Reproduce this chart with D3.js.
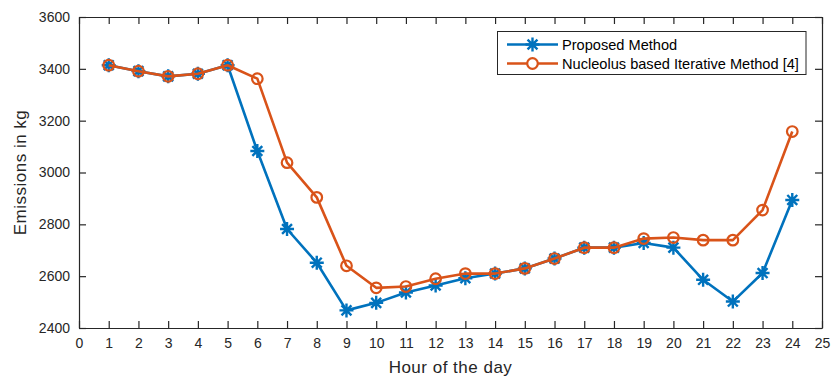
<!DOCTYPE html>
<html><head><meta charset="utf-8">
<script src="https://cdn.jsdelivr.net/npm/d3@7"></script>
<style>body{margin:0;background:#fff;} svg{display:block;font-family:"Liberation Sans",Arial,sans-serif;}</style>
</head><body>
<svg id="c" width="831" height="377"></svg>
<script>
const hours = [1,2,3,4,5,6,7,8,9,10,11,12,13,14,15,16,17,18,19,20,21,22,23,24];
const proposed = [3414,3391,3371,3381,3414,3083,2782,2652,2468,2497,2537,2564,2592,2610,2630,2668,2710,2710,2728,2710,2586,2502,2612,2894];
const nucleolus = [3414,3391,3371,3381,3414,3362,3038,2904,2640,2555,2560,2590,2610,2610,2630,2668,2710,2710,2745,2749,2739,2739,2855,3158];
const xTicks = d3.range(0,26);
const yTicks = [2400,2600,2800,3000,3200,3400,3600];
const seriesNames = ["Proposed Method","Nucleolus based Iterative Method [4]"];
const colors = ["#0072BD","#D95319"];

const svg = d3.select("#c");
const L=79, R=822, T=17, B=328;
const x = d3.scaleLinear().domain([0,25]).range([L,R]);
const y = d3.scaleLinear().domain([2400,3600]).range([B,T]);
const axisCol = "#262626";

// axes
const gx = svg.append("g").attr("transform",`translate(0,${B})`)
  .call(d3.axisBottom(x).tickValues(xTicks).tickSizeInner(-7).tickSizeOuter(0).tickPadding(10).tickFormat(d3.format("d")));
const gy = svg.append("g").attr("transform",`translate(${L},0)`)
  .call(d3.axisLeft(y).tickValues(yTicks).tickSizeInner(-7).tickSizeOuter(0).tickPadding(9).tickFormat(d3.format("d")));
const gxt = svg.append("g").attr("transform",`translate(0,${T})`)
  .call(d3.axisTop(x).tickValues(xTicks).tickSizeInner(-7).tickSizeOuter(0).tickFormat(""));
const gyr = svg.append("g").attr("transform",`translate(${R},0)`)
  .call(d3.axisRight(y).tickValues(yTicks).tickSizeInner(-7).tickSizeOuter(0).tickFormat(""));
[gx,gy,gxt,gyr].forEach(g=>{
  g.selectAll("path.domain").attr("stroke",axisCol).attr("stroke-width",1.2);
  g.selectAll(".tick line").attr("stroke",axisCol).attr("stroke-width",1.2);
  g.selectAll(".tick text").attr("fill",axisCol).attr("font-size",14).attr("font-family","Liberation Sans,Arial,sans-serif");
});

// axis labels
svg.append("text").attr("x",(L+R)/2).attr("y",373).attr("text-anchor","middle")
  .attr("font-size",17).attr("letter-spacing",0.5).attr("fill",axisCol).text("Hour of the day");
svg.append("text").attr("transform",`translate(25.5,${(T+B)/2}) rotate(-90)`).attr("text-anchor","middle")
  .attr("font-size",17).attr("letter-spacing",0.5).attr("fill",axisCol).text("Emissions in kg");

const line = d3.line().x((d,i)=>x(hours[i])).y(d=>y(d));
const star = (s)=>{ const a=s*0.7071; return `M${-s},0L${s},0M0,${-s}L0,${s}M${-a},${-a}L${a},${a}M${-a},${a}L${a},${-a}`; };

function drawSeries(vals, col, marker){
  svg.append("path").datum(vals).attr("d",line).attr("fill","none").attr("stroke",col).attr("stroke-width",2.6).attr("stroke-linejoin","round");
  const g = svg.append("g");
  vals.forEach((v,i)=>{
    if(marker==="star"){
      g.append("path").attr("d",star(7)).attr("transform",`translate(${x(hours[i])},${y(v)})`).attr("stroke",col).attr("stroke-width",2.4).attr("fill","none");
    } else {
      g.append("circle").attr("cx",x(hours[i])).attr("cy",y(v)).attr("r",5.3).attr("fill","none").attr("stroke",col).attr("stroke-width",2.2);
    }
  });
}
drawSeries(proposed, colors[0], "star");
drawSeries(nucleolus, colors[1], "circle");

// legend
const lg = svg.append("g");
lg.append("rect").attr("x",497.5).attr("y",31.5).attr("width",308.5).attr("height",43).attr("fill","#fff").attr("stroke",axisCol).attr("stroke-width",1);
seriesNames.forEach((n,i)=>{
  const cy = 44.5 + i*19;
  lg.append("line").attr("x1",507).attr("x2",558).attr("y1",cy).attr("y2",cy).attr("stroke",colors[i]).attr("stroke-width",2.6);
  if(i===0) lg.append("path").attr("d",star(7)).attr("transform",`translate(532.5,${cy})`).attr("stroke",colors[i]).attr("stroke-width",2.4).attr("fill","none");
  else lg.append("circle").attr("cx",532.5).attr("cy",cy).attr("r",5.3).attr("fill","#fff").attr("stroke",colors[i]).attr("stroke-width",2.2);
  lg.append("text").attr("x",562).attr("y",cy+5).attr("font-size",14.6).attr("fill","#000").text(n);
});
</script>
</body></html>
